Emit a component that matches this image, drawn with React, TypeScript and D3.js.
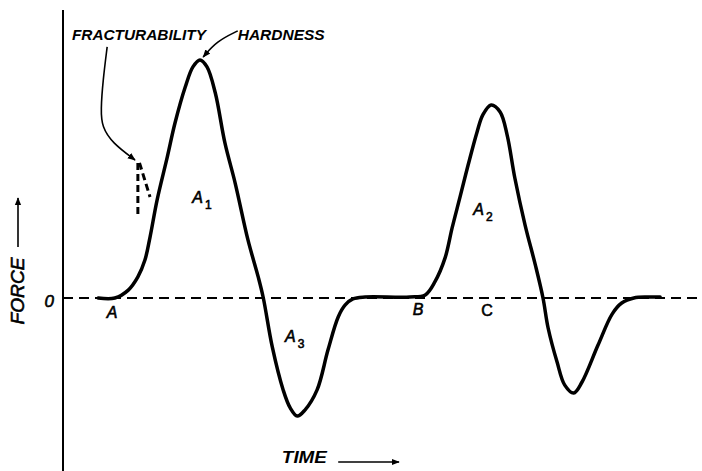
import React from "react";
import * as d3 from "d3";

// Texture profile curve: time (arbitrary units) and force (arbitrary units)
const time = [5.5, 8.1, 10.2, 11.7, 12.8, 13.6, 14.7, 16.3, 17.5, 19.1, 20.3, 21.4, 22.5, 23.8, 25.3, 26.9, 28.9, 30.5, 31.3, 32.7, 34.4, 35.5, 36.6, 37.8, 39.7, 41.4, 43.0, 44.1, 45.3, 47.2, 54.2, 56.6, 58.1, 59.7, 60.8, 62.0, 63.3, 64.7, 65.6, 66.9, 68.3, 69.4, 70.6, 72.2, 73.8, 75.0, 75.8, 77.2, 78.4, 79.8, 81.1, 83.6, 85.8, 87.3, 89.2, 91.4, 93.3];
const force = [0, 0, 3.3, 8.8, 15.8, 25.4, 40.8, 58.8, 72.9, 87.9, 96.3, 99.2, 96.3, 85.4, 64.6, 47.9, 24.2, 8.8, 0, -20.4, -38.3, -45.8, -49.2, -46.7, -38.3, -21.7, -7.9, -2.9, -0.4, 0.4, 0.4, 1.3, 6.7, 16.7, 29.2, 41.7, 55.4, 69.2, 76.3, 80.4, 77.5, 67.9, 50.0, 30.4, 13.8, 0, -12.5, -26.7, -36.3, -39.6, -35.0, -19.6, -6.7, -2.1, 0, 0.4, 0.4];

// Fracturability arrow (curved pointer)
const fracArrowT = [6.9, 6.25, 5.9, 6.1, 7.7, 11.25];
const fracArrowF = [104.6, 90.8, 78.3, 71.25, 64.6, 57.5];
// Fracture break marks (dashed)
const fracMarkT = [[11.7, 11.7], [11.95, 13.6]];
const fracMarkF = [[56.3, 34.6], [56.3, 42.1]];
// Hardness pointer
const hardArrowT = [27.3, 24.0, 21.9];
const hardArrowF = [111.3, 107.0, 100.4];

// Point labels
const pointLabels = ["A", "B", "C"];
const pointLabelT = [7.66, 55.5, 66.25];
const pointLabelF = [-8.3, -7.1, -7.5];

// Area labels
const areaLabels = ["A", "A", "A"];
const areaSubs = ["1", "2", "3"];
const areaLabelT = [20.2, 64.1, 34.7];
const areaLabelF = [39.6, 34.6, -18.3];

// Annotation labels
const noteLabels = ["FRACTURABILITY", "HARDNESS"];
const noteLabelT = [1.4, 27.3];
const noteLabelF = [107.5, 107.5];
const noteLabelW = [134, 87];

const W = 702;
const H = 471;

export default function App() {
  const x = d3.scaleLinear().domain([0, 100]).range([63, 703]);
  const y = d3.scaleLinear().domain([-50, 100]).range([418, 58]);

  const pts: [number, number][] = time.map((t, i) => [t, force[i]]);
  const line = d3
    .line<[number, number]>()
    .x((d) => x(d[0]))
    .y((d) => y(d[1]))
    .curve(d3.curveCatmullRom.alpha(0.5));

  const fracPts: [number, number][] = fracArrowT.map((t, i) => [t, fracArrowF[i]]);
  const hardPts: [number, number][] = hardArrowT.map((t, i) => [t, hardArrowF[i]]);
  const basis = d3
    .line<[number, number]>()
    .x((d) => x(d[0]))
    .y((d) => y(d[1]))
    .curve(d3.curveBasis);

  const font = "'Liberation Sans', Arial, sans-serif";
  const axisX = x(0);
  const zeroY = y(0);
  const medium = { stroke: "#000", strokeWidth: 0.6 };

  return (
    <svg
      width={W}
      height={H}
      style={{ position: "fixed", left: 0, top: 0, background: "#fff" }}
    >
      <defs>
        <marker id="head" viewBox="0 0 10 10" refX="9" refY="5" markerWidth="5" markerHeight="5" orient="auto">
          <path d="M0,1 L10,5 L0,9 Z" fill="#000" />
        </marker>
      </defs>
      <rect x={0} y={0} width={W} height={H} fill="#fff" />

      {/* vertical axis */}
      <line x1={axisX} x2={axisX} y1={y(120)} y2={H} stroke="#000" strokeWidth={2} />
      {/* zero line */}
      <line x1={axisX} x2={W} y1={zeroY} y2={zeroY} stroke="#000" strokeWidth={2} strokeDasharray="10 6" />

      {/* curve */}
      <path d={line(pts) || ""} fill="none" stroke="#000" strokeWidth={3.5} strokeLinejoin="round" strokeLinecap="round" />

      {/* fracture marks */}
      {fracMarkT.map((ts, i) => (
        <line
          key={"fm" + i}
          x1={x(ts[0])}
          x2={x(ts[1])}
          y1={y(fracMarkF[i][0])}
          y2={y(fracMarkF[i][1])}
          stroke="#000"
          strokeWidth={3}
          strokeDasharray="7 4"
        />
      ))}

      {/* pointers */}
      <path d={basis(fracPts) || ""} fill="none" stroke="#000" strokeWidth={1.6} markerEnd="url(#head)" />
      <path d={basis(hardPts) || ""} fill="none" stroke="#000" strokeWidth={1.6} markerEnd="url(#head)" />

      {/* note labels */}
      {noteLabels.map((s, i) => (
        <text
          key={s}
          x={x(noteLabelT[i])}
          y={y(noteLabelF[i])}
          fontFamily={font}
          fontStyle="italic"
          fontWeight="bold"
          fontSize={15}
          textLength={noteLabelW[i]}
          lengthAdjust="spacingAndGlyphs"
        >
          {s}
        </text>
      ))}

      {/* area labels */}
      {areaLabels.map((s, i) => (
        <text key={"a" + i} x={x(areaLabelT[i])} y={y(areaLabelF[i])} fontFamily={font} fontStyle="italic" fontSize={16} {...medium}>
          {s}
          <tspan dx={2} dy={6} fontSize={12} fontStyle="normal">
            {areaSubs[i]}
          </tspan>
        </text>
      ))}

      {/* point labels */}
      {pointLabels.map((s, i) => (
        <text
          key={"p" + s}
          x={x(pointLabelT[i])}
          y={y(pointLabelF[i])}
          fontFamily={font}
          fontStyle={s === "C" ? "normal" : "italic"}
          fontSize={16}
          textAnchor="middle"
          {...medium}
        >
          {s}
        </text>
      ))}

      {/* axis labels */}
      <text x={axisX - 9} y={zeroY + 9} fontFamily={font} fontStyle="italic" fontSize={17} textAnchor="end" {...medium}>
        0
      </text>
      <text
        transform={`translate(${axisX - 39},${zeroY - 7}) rotate(-90)`}
        fontFamily={font}
        fontStyle="italic"
        fontSize={19}
        textAnchor="middle"
        textLength={67}
        lengthAdjust="spacingAndGlyphs"
        {...medium}
      >
        FORCE
      </text>
      <line x1={axisX - 45} x2={axisX - 45} y1={zeroY - 51} y2={zeroY - 100} stroke="#000" strokeWidth={1.6} markerEnd="url(#head)" />

      <text x={x(34.2)} y={H - 8} fontFamily={font} fontStyle="italic" fontWeight="bold" fontSize={17} textLength={45} lengthAdjust="spacingAndGlyphs">
        TIME
      </text>
      <line x1={x(43)} x2={x(52.5)} y1={H - 9} y2={H - 9} stroke="#000" strokeWidth={1.6} markerEnd="url(#head)" />
    </svg>
  );
}
